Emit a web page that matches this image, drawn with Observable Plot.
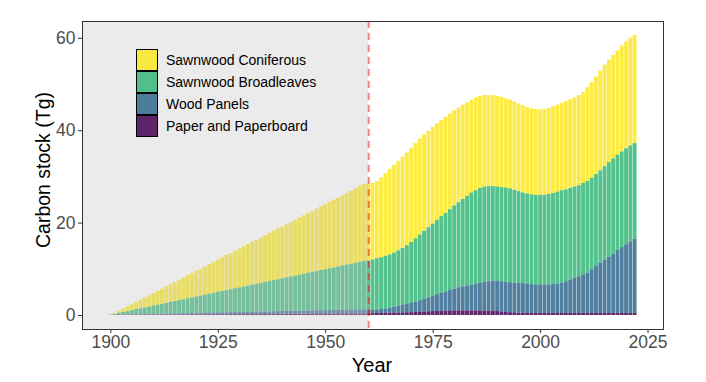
<!DOCTYPE html>
<html><head><meta charset="utf-8">
<script src="https://cdn.jsdelivr.net/npm/d3@7"></script>
<script src="https://cdn.jsdelivr.net/npm/@observablehq/plot@0.6"></script>
<style>
body{margin:0;background:#fff;}
#wrap{position:relative;width:706px;height:382px;font-family:"Liberation Sans",Arial,sans-serif;}
#wrap svg{position:absolute;left:0;top:0;}
.lab{position:absolute;color:#000;white-space:nowrap;}
#legend{position:absolute;left:136px;top:49px;}
.row{display:flex;align-items:center;height:22px;}
.key{width:22px;height:22px;box-sizing:border-box;border:1px solid #000;margin-top:-1px;}
.row:first-child .key{margin-top:0;}
.row span{margin-left:8px;font-size:14px;color:#000;}
</style></head><body><div id="wrap"></div>
<script>
// Categories
const years = d3.range(1900, 2023);
const seriesNames = ["Sawnwood Coniferous", "Sawnwood Broadleaves", "Wood Panels", "Paper and Paperboard"];
const stackOrder = ["Paper and Paperboard", "Wood Panels", "Sawnwood Broadleaves", "Sawnwood Coniferous"];
const xTicks = [1900, 1925, 1950, 1975, 2000, 2025];
const yTicks = [0, 20, 40, 60];
const cutYear = 1960;

// Series values (Tg), one per year 1900..2022
const coniferous = [
0.05,0.2,0.5,0.8,1.0,1.3,1.6,1.9,2.2,2.4,2.7,3.0,3.3,3.6,3.9,4.1,4.4,4.7,5.0,5.3,
5.6,5.8,6.1,6.4,6.7,7.0,7.3,7.6,7.8,8.1,8.4,8.7,9.0,9.3,9.5,9.8,10.1,10.4,10.7,11.0,
11.2,11.5,11.8,12.1,12.4,12.7,13.0,13.2,13.5,13.8,14.1,14.4,14.7,14.9,15.2,15.5,15.8,16.1,16.4,16.7,
16.6,16.6,16.7,17.3,17.9,18.5,19.0,19.4,19.8,20.1,20.4,20.6,20.8,20.9,20.9,20.9,20.9,20.8,20.8,20.7,
20.6,20.5,20.4,20.2,20.1,20.1,19.9,19.8,19.7,19.7,19.6,19.5,19.3,19.2,19.1,19.0,18.9,18.7,18.6,18.6,
18.5,18.6,18.6,18.8,18.8,18.9,19.1,19.2,19.3,19.5,19.7,20.3,20.7,21.1,21.6,22.0,22.2,22.4,22.6,22.9,
23.1,23.3,23.4];
const broadleaves = [
0.05,0.2,0.4,0.55,0.7,0.9,1.1,1.25,1.4,1.6,1.8,1.95,2.1,2.3,2.5,2.65,2.85,3.0,3.2,3.35,
3.55,3.7,3.9,4.1,4.25,4.45,4.6,4.8,4.95,5.15,5.3,5.5,5.65,5.85,6.0,6.2,6.4,6.55,6.75,6.9,
7.1,7.25,7.45,7.6,7.8,7.95,8.15,8.3,8.5,8.7,8.85,9.05,9.2,9.4,9.55,9.75,9.9,10.1,10.3,10.45,
10.6,10.8,11.1,11.2,11.4,11.5,11.7,12.0,12.3,12.7,13.2,13.7,14.2,14.7,15.2,15.7,16.1,16.6,17.0,17.5,
18.0,18.4,18.9,19.4,19.9,20.2,20.5,20.6,20.6,20.5,20.4,20.4,20.4,20.3,20.1,19.8,19.6,19.5,19.4,19.4,
19.4,19.4,19.6,19.7,19.9,20.0,19.9,19.9,19.8,19.7,19.8,19.8,19.8,19.9,20.0,20.2,20.5,20.6,20.6,20.7,
20.8,20.8,20.7];
const panels = [
0.01,0.02,0.03,0.05,0.06,0.08,0.09,0.1,0.12,0.14,0.15,0.17,0.18,0.2,0.21,0.23,0.24,0.26,0.27,0.29,
0.3,0.32,0.33,0.35,0.36,0.38,0.39,0.41,0.42,0.44,0.45,0.47,0.48,0.5,0.51,0.53,0.54,0.56,0.57,0.59,
0.6,0.62,0.63,0.65,0.66,0.68,0.69,0.71,0.72,0.74,0.75,0.77,0.78,0.8,0.81,0.83,0.84,0.86,0.87,0.89,
0.8,0.8,0.75,0.85,0.9,1.1,1.3,1.45,1.65,1.8,2.0,2.25,2.5,2.75,3.0,3.25,3.6,3.9,4.15,4.45,
4.7,5.0,5.2,5.4,5.6,5.8,6.0,6.25,6.35,6.5,6.55,6.55,6.5,6.5,6.45,6.5,6.4,6.35,6.25,6.15,
6.15,6.15,6.15,6.25,6.35,6.55,6.85,7.15,7.55,7.95,8.35,8.75,9.45,10.15,10.85,11.55,12.15,12.85,13.65,14.25,
14.85,15.45,16.05];
const paper = [
0.02,0.03,0.04,0.05,0.06,0.07,0.08,0.09,0.1,0.1,0.11,0.11,0.12,0.12,0.13,0.13,0.14,0.14,0.15,0.15,
0.16,0.16,0.17,0.17,0.18,0.18,0.19,0.19,0.2,0.2,0.21,0.21,0.22,0.22,0.23,0.23,0.24,0.24,0.25,0.25,
0.26,0.26,0.27,0.27,0.28,0.28,0.29,0.29,0.3,0.3,0.31,0.31,0.32,0.32,0.33,0.33,0.34,0.34,0.35,0.35,
0.4,0.4,0.45,0.45,0.5,0.5,0.5,0.55,0.55,0.6,0.6,0.65,0.7,0.75,0.8,0.85,0.9,0.9,0.95,0.95,
1.0,1.0,1.0,1.0,1.0,1.0,1.0,0.95,0.95,0.9,0.85,0.75,0.7,0.6,0.55,0.5,0.5,0.45,0.45,0.45,
0.45,0.45,0.45,0.45,0.45,0.45,0.45,0.45,0.45,0.45,0.45,0.45,0.45,0.45,0.45,0.45,0.45,0.45,0.45,0.45,
0.45,0.45,0.45];

const colors = ["#FDE725", "#35B779", "#31688E", "#440154"];
const valuesBySeries = [coniferous, broadleaves, panels, paper];

const data = [];
seriesNames.forEach((name, s) => {
  years.forEach((yr, i) => data.push({year: yr, series: name, value: valuesBySeries[s][i]}));
});

const xDomain = [1893.4, 2028.6];
const yDomain = [-3.03, 63.63];
const font = "'Liberation Sans', Arial, sans-serif";

const chart = Plot.plot({
  width: 706, height: 382,
  marginLeft: 82, marginRight: 43, marginTop: 21, marginBottom: 53,
  style: {fontFamily: font, background: "transparent", overflow: "visible"},
  x: {domain: xDomain, label: null},
  y: {domain: yDomain, label: null},
  color: {domain: seriesNames, range: colors},
  marks: [
    Plot.rectY(data, {x1: d => d.year - 0.45, x2: d => d.year + 0.45, y: "value", fill: "series", fillOpacity: 0.85, order: stackOrder}),
    Plot.rect([{from: xDomain[0], to: cutYear}], {x1: "from", x2: "to", fill: "#bebebe", fillOpacity: 0.3}),
    Plot.ruleX([cutYear], {stroke: "red", strokeOpacity: 0.5, strokeWidth: 2, strokeDasharray: "7,5"}),
    Plot.frame({stroke: "#333", strokeWidth: 1}),
    Plot.axisX(xTicks, {tickSize: 4, tickPadding: 2, fontSize: 17.5, stroke: "#333", fill: "#4d4d4d", label: null, tickFormat: d => String(d)}),
    Plot.axisY(yTicks, {tickSize: 4, tickPadding: 3, fontSize: 17.5, stroke: "#333", fill: "#4d4d4d", label: null})
  ]
});

const wrap = document.getElementById("wrap");
wrap.appendChild(chart);

const xt = document.createElement("div");
xt.className = "lab"; xt.textContent = "Year";
xt.style.cssText += "font-size:20px;left:372px;top:365px;transform:translate(-50%,-50%);";
wrap.appendChild(xt);

const yt = document.createElement("div");
yt.className = "lab"; yt.textContent = "Carbon stock (Tg)";
yt.style.cssText += "font-size:19.5px;left:43px;top:170px;transform:translate(-50%,-50%) rotate(-90deg);";
wrap.appendChild(yt);

const legend = document.createElement("div");
legend.id = "legend";
seriesNames.forEach((name, i) => {
  const row = document.createElement("div"); row.className = "row";
  const key = document.createElement("div"); key.className = "key";
  const c = d3.color(colors[i]); c.opacity = 0.85;
  key.style.background = c.formatRgb();
  const t = document.createElement("span"); t.textContent = name;
  row.appendChild(key); row.appendChild(t);
  legend.appendChild(row);
});
wrap.appendChild(legend);
</script></body></html>
